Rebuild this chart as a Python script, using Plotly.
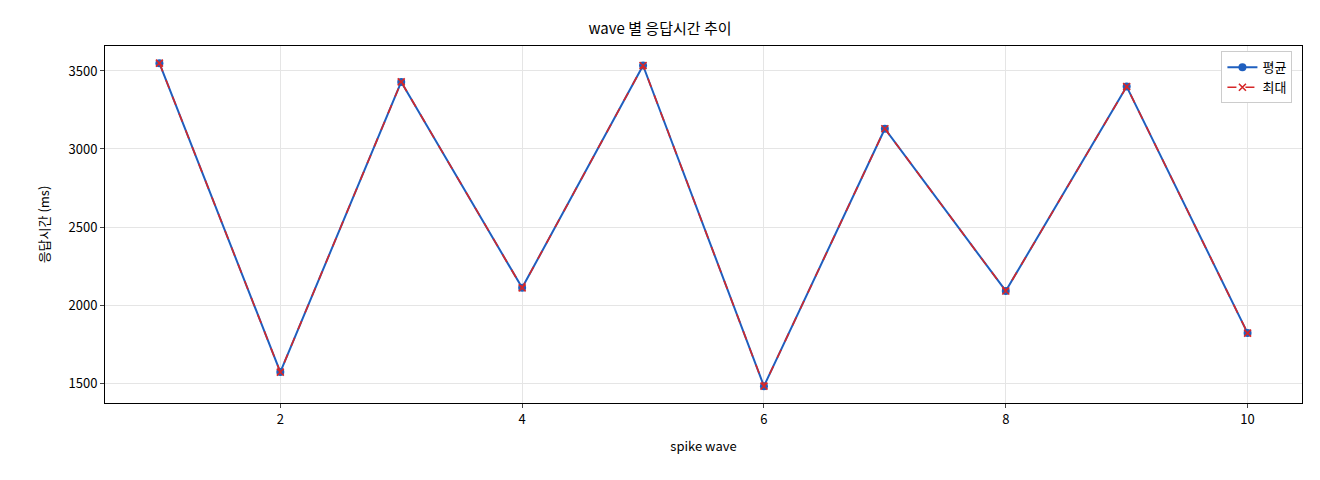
import plotly.graph_objects as go

waves = [1, 2, 3, 4, 5, 6, 7, 8, 9, 10]
avg_ms = [3550, 1570, 3430, 2110, 3535, 1480, 3130, 2090, 3400, 1820]
max_ms = [3550, 1570, 3430, 2110, 3535, 1480, 3130, 2090, 3400, 1820]

fig = go.Figure()
fig.add_trace(go.Scatter(x=waves, y=avg_ms, name="평균", mode="lines+markers",
                         line=dict(color="#1f5fbf", width=2),
                         marker=dict(symbol="circle", size=8, color="#1f5fbf")))
fig.add_trace(go.Scatter(x=waves, y=max_ms, name="최대", mode="lines+markers",
                         line=dict(color="#d62728", width=1.6, dash="dash"),
                         marker=dict(symbol="x-thin", size=7, line=dict(color="#d62728", width=1.6))))

axis = dict(showline=True, linecolor="black", mirror=True, ticks="outside", ticklen=4,
            gridcolor="#e5e5e5", zeroline=False, tickfont=dict(size=13, color="black"))
fig.update_layout(
    width=1304, height=464, plot_bgcolor="white", paper_bgcolor="white",
    font=dict(family="Noto Sans CJK KR", size=13, color="black"),
    title=dict(text="wave 별 응답시간 추이", x=0.5, xanchor="center", y=0.955,
               yanchor="middle", font=dict(size=15)),
    margin=dict(l=97, r=10, t=38, b=69),
    xaxis=dict(axis, range=[0.55, 10.45], tickvals=[2, 4, 6, 8, 10],
               title=dict(text="spike wave", font=dict(size=13))),
    yaxis=dict(axis, range=[1372, 3660], tickvals=[1500, 2000, 2500, 3000, 3500],
               title=dict(text="응답시간 (ms)", font=dict(size=13))),
    legend=dict(x=0.992, y=0.985, xanchor="right", yanchor="top", bordercolor="#cccccc",
                borderwidth=1, bgcolor="white", font=dict(size=13)),
)
fig.write_html("out.html")
